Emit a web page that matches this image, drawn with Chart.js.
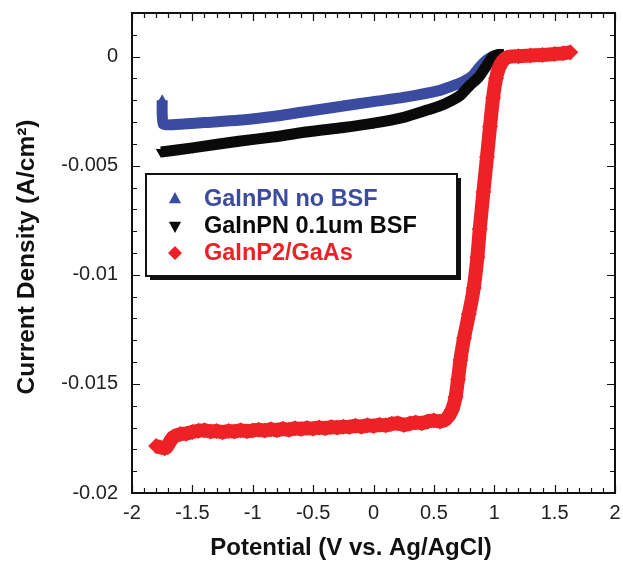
<!DOCTYPE html>
<html>
<head>
<meta charset="utf-8">
<script src="https://cdn.jsdelivr.net/npm/chart.js@4/dist/chart.umd.min.js"></script>
<style>
  html, body { margin: 0; padding: 0; background: #fff; }
  #chart { display: block; }
</style>
</head>
<body>
<canvas id="chart" width="623" height="561"></canvas>
<script>
// ===== Data =====
const seriesNames = ["GaInPN no BSF", "GaInPN 0.1um BSF", "GaInP2/GaAs"];
const seriesColors = ["#3b4ca0", "#0a0a0a", "#ee2226"];

const blueV = [-1.75, -1.75, -1.74, -1.66, -1.4, -1.117, -0.8, -0.5, -0.25, 0, 0.25, 0.55, 0.7, 0.76, 0.82, 0.88, 0.94, 0.99, 1.05];
const blueJ = [-0.0020, -0.0026, -0.0031, -0.00312, -0.00302, -0.00292, -0.00272, -0.00247, -0.00226, -0.00206, -0.00187, -0.00155, -0.00125, -0.0011, -0.00088, -0.00047, -0.00015, 0.00001, 0.0001];

const blackV = [-1.76, -1.5, -1.117, -0.8, -0.543, -0.25, 0, 0.25, 0.45, 0.55, 0.65, 0.72, 0.8, 0.87, 0.93, 0.99, 1.04, 1.08];
const blackJ = [-0.00437, -0.00418, -0.00388, -0.00366, -0.00344, -0.00325, -0.00305, -0.00278, -0.00244, -0.00226, -0.002, -0.00177, -0.0013, -0.00095, -0.00047, 0, 0.0001, 0.0001];

const redV = [-1.80, -1.73, -1.66, -1.6, -1.55, -1.5, -1.45, -1.4, -1.35, -1.3, -1.25, -1.2, -1.15, -1.1, -1.05, -1.0,
  -0.95, -0.9, -0.85, -0.8, -0.75, -0.7, -0.65, -0.6, -0.55, -0.5, -0.45, -0.4, -0.35, -0.3, -0.25, -0.2, -0.15, -0.1, -0.05, 0,
  0.05, 0.1, 0.15, 0.2, 0.25, 0.3, 0.35, 0.4, 0.45, 0.5, 0.55, 0.6, 0.65, 0.68, 0.70, 0.72, 0.75, 0.79, 0.83, 0.86, 0.88,
  0.91, 0.94, 0.965, 0.99, 1.015, 1.04, 1.07, 1.1, 1.2, 1.3, 1.4, 1.5, 1.57, 1.63];
const redJ = [-0.01785, -0.01795, -0.01745, -0.0173, -0.01728, -0.0172, -0.01715, -0.01712, -0.01718, -0.01716, -0.01722, -0.01716, -0.01718, -0.01712, -0.01717, -0.01713,
  -0.0171, -0.01714, -0.01708, -0.01712, -0.01706, -0.0171, -0.01703, -0.01707, -0.01702, -0.01705, -0.017, -0.01703, -0.01698, -0.017, -0.01696, -0.01698, -0.01692, -0.01696, -0.0169, -0.01693,
  -0.01687, -0.0169, -0.01683, -0.0168, -0.01688, -0.01682, -0.01677, -0.0168, -0.01672, -0.01668, -0.01672, -0.01662, -0.0162, -0.0156, -0.0148, -0.0139, -0.0129, -0.0118, -0.0106, -0.0092, -0.0079,
  -0.0062, -0.0046, -0.0032, -0.0019, -0.001, -0.0005, -0.0002, -0.00005, 0.00002, 0.00005, 0.00008, 0.00012, 0.00015, 0.0002];

const xTicks = [-2, -1.5, -1, -0.5, 0, 0.5, 1, 1.5, 2];
const xTickLabels = ["-2", "-1.5", "-1", "-0.5", "0", "0.5", "1", "1.5", "2"];
const yTicks = [-0.02, -0.015, -0.01, -0.005, 0];
const yTickLabels = ["-0.02", "-0.015", "-0.01", "-0.005", "0"];

const xTitle = "Potential (V vs. Ag/AgCl)";
const yTitle = "Current Density (A/cm\u00B2)";

// ===== Helpers =====
function toPoints(xs, ys) {
  return xs.map((x, i) => ({ x, y: ys[i] }));
}

const FONT = "'Liberation Sans', Arial, Helvetica, sans-serif";

function drawMarker(ctx, style, x, y, r) {
  ctx.beginPath();
  if (style === "triangle") {
    ctx.moveTo(x, y - r); ctx.lineTo(x + r * 0.87, y + r * 0.6); ctx.lineTo(x - r * 0.87, y + r * 0.6);
  } else if (style === "triangleDown") {
    ctx.moveTo(x, y + r); ctx.lineTo(x + r * 0.87, y - r * 0.6); ctx.lineTo(x - r * 0.87, y - r * 0.6);
  } else {
    ctx.moveTo(x, y - r); ctx.lineTo(x + r, y); ctx.lineTo(x, y + r); ctx.lineTo(x - r, y);
  }
  ctx.closePath();
  ctx.fill();
}

// ===== Frame, inward ticks, tick labels, titles, legend =====
const framePlugin = {
  id: "frame",
  afterDraw(chart) {
    const ctx = chart.ctx;
    const a = chart.chartArea;
    const xs = chart.scales.x, ys = chart.scales.y;
    ctx.save();
    ctx.strokeStyle = "#111";
    ctx.lineWidth = 1.2;
    ctx.beginPath();
    // x ticks every 0.1, major every 0.5
    for (let i = -20; i <= 20; i++) {
      const px = Math.round(xs.getPixelForValue(i / 10)) + 0.5;
      const len = i % 5 === 0 ? 8 : 5;
      ctx.moveTo(px, a.bottom); ctx.lineTo(px, a.bottom - len);
      ctx.moveTo(px, a.top); ctx.lineTo(px, a.top + len);
    }
    // y ticks every 0.001, major every 0.005
    for (let i = -20; i <= 2; i++) {
      const py = Math.round(ys.getPixelForValue(i / 1000)) + 0.5;
      const len = i % 5 === 0 ? 8 : 5;
      ctx.moveTo(a.left, py); ctx.lineTo(a.left + len, py);
      ctx.moveTo(a.right, py); ctx.lineTo(a.right - len, py);
    }
    ctx.stroke();
    ctx.lineWidth = 2;
    ctx.strokeRect(a.left, a.top, a.right - a.left, a.bottom - a.top);

    // tick labels
    ctx.fillStyle = "#222";
    ctx.font = "20px " + FONT;
    ctx.textAlign = "center";
    ctx.textBaseline = "middle";
    xTicks.forEach((v, i) => ctx.fillText(xTickLabels[i], xs.getPixelForValue(v), a.bottom + 20));
    ctx.textAlign = "right";
    yTicks.forEach((v, i) => ctx.fillText(yTickLabels[i], a.left - 14, ys.getPixelForValue(v)));

    // axis titles
    ctx.fillStyle = "#111";
    ctx.font = "bold 24px " + FONT;
    ctx.textAlign = "center";
    ctx.textBaseline = "alphabetic";
    ctx.fillText(xTitle, 351, 555);
    ctx.font = "bold 24.5px " + FONT;
    ctx.translate(34, 257);
    ctx.rotate(-Math.PI / 2);
    ctx.fillText(yTitle, 0, 0);
    ctx.restore();

    // legend box with shadow
    ctx.save();
    const bx = 146, by = 174, bw = 311, bh = 102;
    ctx.fillStyle = "#111";
    ctx.fillRect(bx + 4, by + 4, bw, bh);
    ctx.fillStyle = "#fff";
    ctx.fillRect(bx, by, bw, bh);
    ctx.strokeStyle = "#111";
    ctx.lineWidth = 2;
    ctx.strokeRect(bx, by, bw, bh);
    const styles = ["triangle", "triangleDown", "rectRot"];
    const rows = [199, 226, 253];
    chart.data.datasets.forEach((ds, i) => {
      ctx.fillStyle = seriesColors[i];
      drawMarker(ctx, styles[i], 175, rows[i], 7);
      ctx.font = "bold 23.5px " + FONT;
      ctx.textAlign = "left";
      ctx.textBaseline = "middle";
      ctx.fillText(ds.label, 204, rows[i] + 1);
    });
    ctx.restore();
  }
};

// ===== Chart =====
const ctx = document.getElementById("chart").getContext("2d");
new Chart(ctx, {
  type: "scatter",
  data: {
    datasets: [
      {
        label: seriesNames[0], data: toPoints(blueV, blueJ), order: 3,
        showLine: true, borderColor: seriesColors[0], backgroundColor: seriesColors[0],
        borderWidth: 11, tension: 0.2, borderJoinStyle: "round",
        pointStyle: "triangle", pointRadius: 6, pointBorderWidth: 0
      },
      {
        label: seriesNames[1], data: toPoints(blackV, blackJ), order: 2,
        showLine: true, borderColor: seriesColors[1], backgroundColor: seriesColors[1],
        borderWidth: 11, tension: 0.2, borderJoinStyle: "round",
        pointStyle: "triangle", rotation: 180, pointRadius: 6, pointBorderWidth: 0
      },
      {
        label: seriesNames[2], data: toPoints(redV, redJ), order: 1,
        showLine: true, borderColor: seriesColors[2], backgroundColor: seriesColors[2],
        borderWidth: 14, cubicInterpolationMode: "monotone", borderJoinStyle: "round",
        pointStyle: "rectRot", pointRadius: 8, pointBorderWidth: 0
      }
    ]
  },
  options: {
    responsive: false,
    animation: false,
    layout: { padding: { left: 132, right: 4, top: 13, bottom: 68 } },
    plugins: { legend: { display: false }, tooltip: { enabled: false } },
    scales: {
      x: { type: "linear", min: -2, max: 2, display: false },
      y: { type: "linear", min: -0.02, max: 0.002, display: false }
    }
  },
  plugins: [framePlugin]
});
</script>
</body>
</html>
